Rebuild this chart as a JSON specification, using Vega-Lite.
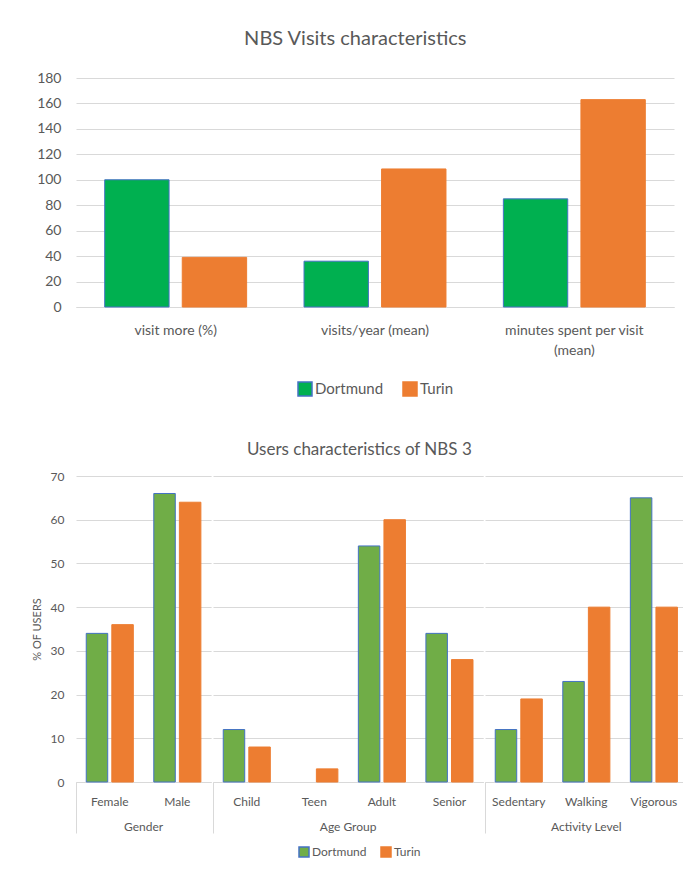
{
  "$schema": "https://vega.github.io/schema/vega-lite/v6.json",
  "padding": {"left": 31, "top": 29, "right": 0, "bottom": 4},
  "config": {
    "font": "Lato",
    "view": {"stroke": null},
    "axis": {"labelColor": "#595959", "titleColor": "#595959", "gridColor": "#d9d9d9", "domainColor": "#d9d9d9", "tickColor": "#d9d9d9", "labelFont": "Lato", "titleFont": "Lato"},
    "legend": {"labelColor": "#595959", "labelFont": "Lato", "layout": {"bottom": {"anchor": "middle"}}},
    "header": {"labelColor": "#595959", "labelFont": "Lato"},
    "title": {"color": "#595959", "fontWeight": "normal", "font": "Lato"}
  },
  "resolve": {"scale": {"color": "independent", "stroke": "independent", "xOffset": "independent"}, "legend": {"color": "independent", "stroke": "independent"}},
  "spacing": 42,
  "vconcat": [
    {
      "title": {"text": "NBS Visits characteristics", "fontSize": 20, "frame": "bounds", "anchor": "middle", "offset": 22},
      "width": 598,
      "height": 229,
      "data": {"values": [
        {"measure": "visit more (%)", "city": "Dortmund", "value": 100},
        {"measure": "visit more (%)", "city": "Turin", "value": 39},
        {"measure": "visits/year (mean)", "city": "Dortmund", "value": 36},
        {"measure": "visits/year (mean)", "city": "Turin", "value": 108.5},
        {"measure": "minutes spent per visit (mean)", "city": "Dortmund", "value": 85},
        {"measure": "minutes spent per visit (mean)", "city": "Turin", "value": 163}
      ]},
      "mark": {"type": "bar", "strokeWidth": 1},
      "encoding": {
        "x": {"field": "measure", "type": "nominal", "sort": ["visit more (%)", "visits/year (mean)", "minutes spent per visit (mean)"],
              "scale": {"paddingInner": 0, "paddingOuter": 0},
              "axis": {"title": null, "labelAngle": 0, "ticks": false, "labelFontSize": 14, "labelPadding": 16, "labelLimit": 300, "labelLineHeight": 20,
                       "labelExpr": "datum.label === 'minutes spent per visit (mean)' ? ['minutes spent per visit', '(mean)'] : datum.label"}},
        "xOffset": {"field": "city", "type": "nominal", "scale": {"paddingInner": 0.17, "paddingOuter": 0.37}},
        "y": {"field": "value", "type": "quantitative", "scale": {"domain": [0, 180]},
              "axis": {"title": null, "values": [0, 20, 40, 60, 80, 100, 120, 140, 160, 180], "domain": false, "ticks": false, "labelFontSize": 14, "labelPadding": 15}},
        "color": {"field": "city", "type": "nominal", "scale": {"domain": ["Dortmund", "Turin"], "range": ["#00B050", "#ED7D31"]},
                  "legend": {"orient": "bottom", "title": null, "direction": "horizontal", "labelFontSize": 15, "symbolType": "square", "symbolSize": 196, "symbolStrokeWidth": 1.5, "offset": 24, "columnPadding": 16, "labelOffset": 2}},
        "stroke": {"field": "city", "type": "nominal", "scale": {"domain": ["Dortmund", "Turin"], "range": ["#4472C4", "#ED7D31"]},
                  "legend": {"orient": "bottom", "title": null, "direction": "horizontal", "labelFontSize": 15, "symbolType": "square", "symbolSize": 196, "symbolStrokeWidth": 1.5, "offset": 24, "columnPadding": 16, "labelOffset": 2}}
      }
    },
    {
      "title": {"text": "Users characteristics of NBS 3", "fontSize": 17, "anchor": "middle", "offset": 11},
      "data": {"values": [
        {"group": "Gender", "category": "Female", "city": "Dortmund", "value": 34},
        {"group": "Gender", "category": "Female", "city": "Turin", "value": 36},
        {"group": "Gender", "category": "Male", "city": "Dortmund", "value": 66},
        {"group": "Gender", "category": "Male", "city": "Turin", "value": 64},
        {"group": "Age Group", "category": "Child", "city": "Dortmund", "value": 12},
        {"group": "Age Group", "category": "Child", "city": "Turin", "value": 8},
        {"group": "Age Group", "category": "Teen", "city": "Turin", "value": 3},
        {"group": "Age Group", "category": "Adult", "city": "Dortmund", "value": 54},
        {"group": "Age Group", "category": "Adult", "city": "Turin", "value": 60},
        {"group": "Age Group", "category": "Senior", "city": "Dortmund", "value": 34},
        {"group": "Age Group", "category": "Senior", "city": "Turin", "value": 28},
        {"group": "Activity Level", "category": "Sedentary", "city": "Dortmund", "value": 12},
        {"group": "Activity Level", "category": "Sedentary", "city": "Turin", "value": 19},
        {"group": "Activity Level", "category": "Walking", "city": "Dortmund", "value": 23},
        {"group": "Activity Level", "category": "Walking", "city": "Turin", "value": 40},
        {"group": "Activity Level", "category": "Vigorous", "city": "Dortmund", "value": 65},
        {"group": "Activity Level", "category": "Vigorous", "city": "Turin", "value": 40}
      ]},
      "facet": {"column": {"field": "group", "type": "nominal", "sort": ["Gender", "Age Group", "Activity Level"],
                           "header": {"title": null, "labelOrient": "bottom", "labelFontSize": 12, "labelPadding": -12}}},
      "spacing": 0,
      "resolve": {"scale": {"x": "independent"}},
      "spec": {
        "width": {"step": 25.59},
        "height": 306,
        "mark": {"type": "bar", "strokeWidth": 1},
        "encoding": {
          "x": {"field": "category", "type": "nominal",
                "sort": ["Female", "Male", "Child", "Teen", "Adult", "Senior", "Sedentary", "Walking", "Vigorous"],
                "scale": {"paddingInner": 0, "paddingOuter": 0},
                "axis": {"title": null, "labelAngle": 0, "labelFontSize": 12, "bandPosition": 0, "tickSize": 51,
                         "tickOpacity": {"condition": {"test": "datum.index === 0", "value": 1}, "value": 0},
                         "labelPadding": -37}},
          "xOffset": {"field": "city", "type": "nominal", "scale": {"paddingInner": 0.16, "paddingOuter": 0.4}},
          "y": {"field": "value", "type": "quantitative", "scale": {"domain": [0, 70]},
                "axis": {"title": "% OF USERS", "titleFontSize": 11, "titleFontWeight": "normal", "titlePadding": 8,
                         "values": [0, 10, 20, 30, 40, 50, 60, 70], "domain": false, "ticks": false, "labelFontSize": 12, "labelPadding": 11}},
          "color": {"field": "city", "type": "nominal", "scale": {"domain": ["Dortmund", "Turin"], "range": ["#70AD47", "#ED7D31"]},
                    "legend": {"orient": "bottom", "title": null, "direction": "horizontal", "labelFontSize": 12, "symbolType": "square", "symbolSize": 100, "symbolStrokeWidth": 1.5, "offset": 12, "columnPadding": 11, "labelOffset": 2}},
          "stroke": {"field": "city", "type": "nominal", "scale": {"domain": ["Dortmund", "Turin"], "range": ["#4472C4", "#ED7D31"]},
                    "legend": {"orient": "bottom", "title": null, "direction": "horizontal", "labelFontSize": 12, "symbolType": "square", "symbolSize": 100, "symbolStrokeWidth": 1.5, "offset": 12, "columnPadding": 11, "labelOffset": 2}}
        }
      }
    }
  ]
}
